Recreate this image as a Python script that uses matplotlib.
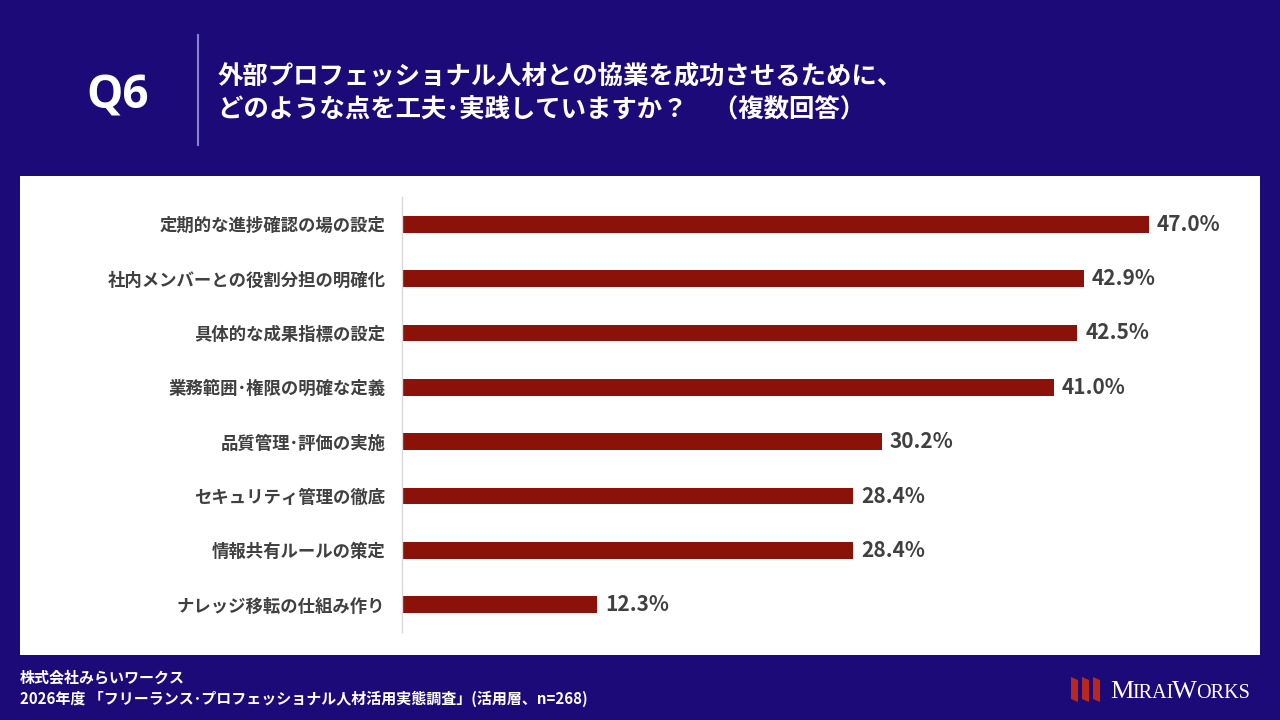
import matplotlib
matplotlib.use("Agg")
import matplotlib.pyplot as plt
from matplotlib.patches import Rectangle, Polygon

plt.rcParams['font.family'] = ['Noto Sans CJK JP', 'DejaVu Sans']

categories = [
    "定期的な進捗確認の場の設定",
    "社内メンバーとの役割分担の明確化",
    "具体的な成果指標の設定",
    "業務範囲･権限の明確な定義",
    "品質管理･評価の実施",
    "セキュリティ管理の徹底",
    "情報共有ルールの策定",
    "ナレッジ移転の仕組み作り",
]
values = [47.0, 42.9, 42.5, 41.0, 30.2, 28.4, 28.4, 12.3]
value_labels = [f"{v:.1f}%" for v in values]

title_lines = ["外部プロフェッショナル人材との協業を成功させるために、",
               "どのような点を工夫･実践していますか？　（複数回答）"]
footer_lines = ["株式会社みらいワークス",
                "2026年度 「フリーランス･プロフェッショナル人材活用実態調査」(活用層、n=268)"]

W, H = 1280, 720
NAVY = "#1C0A78"
BAR = "#8B1209"

fig = plt.figure(figsize=(12.8, 7.2), dpi=100)
fig.patch.set_facecolor(NAVY)

def fx(x): return x / W
def fy(y): return 1 - y / H

# white panel
panel = Rectangle((fx(20), fy(655)), fx(1240), (655 - 176) / H,
                  transform=fig.transFigure, facecolor="white",
                  edgecolor="none", zorder=-5)
fig.add_artist(panel)

# header
fig.text(fx(118), fy(96), "Q6", color="white", fontsize=33, fontweight="bold",
         ha="center", va="center", family=["Open Sans", "DejaVu Sans"])
fig.add_artist(plt.Line2D([fx(198), fx(198)], [fy(35), fy(145)],
                          transform=fig.transFigure, color="#8A80D0", lw=1.5))
fig.text(fx(218), fy(76), title_lines[0], color="white", fontsize=18.3,
         fontweight="bold", ha="left", va="center")
fig.text(fx(218), fy(109), title_lines[1], color="white", fontsize=18.3,
         fontweight="bold", ha="left", va="center")

# footer
fig.text(fx(20), fy(677), footer_lines[0], color="white", fontsize=10.8,
         fontweight="bold", ha="left", va="center")
fig.text(fx(20), fy(699), footer_lines[1], color="white", fontsize=10.8,
         fontweight="bold", ha="left", va="center")

# logo
for i in range(3):
    x0 = 1071 + i * 11
    poly = Polygon([(fx(x0), fy(677)), (fx(x0 + 7), fy(680)),
                    (fx(x0 + 7), fy(702)), (fx(x0), fy(699))],
                   closed=True, transform=fig.transFigure,
                   facecolor="#B8281E", edgecolor="none")
    fig.add_artist(poly)
serif = ["Liberation Serif", "DejaVu Serif"]
logo_parts = [("M", 19, 1110), ("IRAI", 14.5, 1132), ("W", 19, 1172), ("ORKS", 14.5, 1196)]
for txt, fs, x in logo_parts:
    fig.text(fx(x), fy(698), txt, color="white", fontsize=fs, family=serif,
             ha="left", va="baseline")

# chart
ax = fig.add_axes([fx(402), fy(632), fx(1240 - 402), (632 - 197) / H], zorder=2)
ax.patch.set_alpha(0)
y = list(range(len(categories)))
ax.barh(y, values, height=0.31, color=BAR)
ax.set_ylim(len(categories) - 0.5, -0.5)
ax.set_xlim(0, (1240 - 402) / ((1149 - 402) / 47.0))
ax.set_yticks(y)
ax.set_yticklabels(categories, fontsize=12.5, fontweight="bold", color="#404040")
ax.tick_params(axis="y", length=0, pad=12)
ax.set_xticks([])
for s in ["top", "right", "bottom"]:
    ax.spines[s].set_visible(False)
ax.spines["left"].set_color("#D9D9D9")
ax.spines["left"].set_linewidth(1)
for yi, v, lab in zip(y, values, value_labels):
    ax.text(v + 0.5, yi, lab, va="center", ha="left", fontsize=15,
            fontweight="bold", color="#404040")

fig.savefig("out.png", dpi=100, facecolor=NAVY)
